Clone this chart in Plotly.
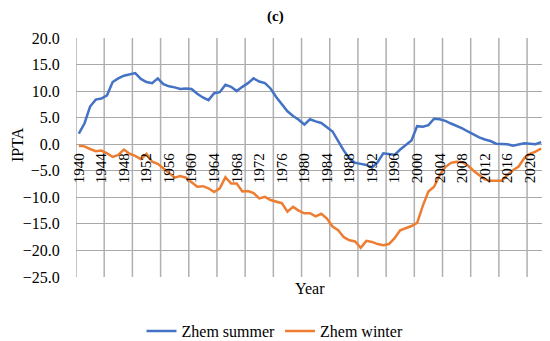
import plotly.graph_objects as go

years = list(range(1940, 2023))

zhem_summer = [
    2.0, 3.9, 7.1, 8.4, 8.6, 9.2, 11.7, 12.4, 12.9, 13.2,
    13.4, 12.3, 11.7, 11.5, 12.4, 11.3, 10.9, 10.7, 10.4, 10.5,
    10.4, 9.5, 8.8, 8.3, 9.6, 9.8, 11.2, 10.8, 10.0, 10.8,
    11.5, 12.4, 11.8, 11.5, 10.5, 8.9, 7.6, 6.2, 5.3, 4.6,
    3.7, 4.7, 4.3, 4.0, 3.2, 2.4, 0.6, -1.2, -2.7, -3.5,
    -3.7, -3.9, -4.4, -3.4, -1.7, -1.9, -2.0, -1.0, -0.2, 0.7,
    3.4, 3.3, 3.6, 4.8, 4.7, 4.4, 3.9, 3.5, 3.0, 2.4,
    1.8, 1.3, 0.9, 0.6, 0.1, 0.0, 0.0, -0.3, -0.1, 0.2,
    0.1, 0.0, 0.4,
]

zhem_winter = [
    -0.3, -0.4, -0.9, -1.3, -1.2, -1.7, -2.4, -2.0, -1.0, -1.8,
    -2.2, -2.8, -1.8, -3.3, -3.7, -4.5, -5.4, -6.3, -6.0, -6.3,
    -7.2, -8.0, -7.9, -8.3, -9.0, -8.3, -6.2, -7.4, -7.4, -8.9,
    -8.8, -9.2, -10.2, -9.9, -10.5, -10.8, -11.1, -12.7, -11.8, -12.5,
    -13.0, -13.0, -13.6, -13.1, -14.0, -15.5, -16.2, -17.5, -18.1, -18.3,
    -19.5, -18.2, -18.4, -18.8, -19.0, -18.8, -17.7, -16.2, -15.8, -15.4,
    -14.8, -11.6, -8.9, -8.0, -5.8, -4.3, -3.5, -3.3, -3.4, -4.0,
    -5.0, -5.8, -6.6, -6.9, -6.9, -6.9, -5.8, -4.9, -4.2, -2.6,
    -1.8, -1.4, -0.8,
]

x_tick_years = list(range(1940, 2021, 4))
x_grid_bounds = [1939.5 + 5 * k for k in range(17)]
y_ticks = [20, 15, 10, 5, 0, -5, -10, -15, -20, -25]

FONT = "Liberation Serif"
GRID = "#a9a9a9"
X_RANGE = [1939.5, 2022.5]
Y_RANGE = [-25, 20]

# page body has an 8px margin; figure sized to fit the 550x341 window
W, H = 542, 333
ML, MR, MT, MB = 68, 6, 30, 64
PW, PH = W - ML - MR, H - MT - MB

# vertical category-boundary gridlines (every 5 years), drawn first so they sit under the data
grid_x, grid_y = [], []
for b in x_grid_bounds:
    grid_x += [b, b, None]
    grid_y += [Y_RANGE[0], Y_RANGE[1], None]

fig = go.Figure()
fig.add_trace(go.Scatter(x=grid_x, y=grid_y, mode="lines", showlegend=False, hoverinfo="skip",
                         line=dict(color="#b0b0b0", width=1.5), connectgaps=False))
fig.add_trace(go.Scatter(x=years, y=zhem_summer, mode="lines", name="Zhem summer",
                         line=dict(color="#4472C4", width=2.5)))
fig.add_trace(go.Scatter(x=years, y=zhem_winter, mode="lines", name="Zhem winter",
                         line=dict(color="#ED7D31", width=2.5)))
# invisible carrier trace for the labelled year axis (top part of the plot, ending at y=0)
fig.add_trace(go.Scatter(x=years, y=zhem_summer, mode="lines", xaxis="x2", yaxis="y2",
                         line=dict(width=0, color="rgba(0,0,0,0)"),
                         showlegend=False, hoverinfo="skip"))

zero_frac = (0 - Y_RANGE[0]) / (Y_RANGE[1] - Y_RANGE[0])

fig.update_layout(
    width=W, height=H,
    margin=dict(l=ML, r=MR, t=MT, b=MB, autoexpand=False),
    paper_bgcolor="white", plot_bgcolor="rgba(0,0,0,0)",
    font=dict(family=FONT, size=16, color="black"),
    showlegend=True,
    legend=dict(orientation="h", x=(267 - ML) / PW, xanchor="center",
                y=-(323 - (MT + PH)) / PH, yanchor="middle",
                font=dict(family=FONT, size=16, color="black"), bgcolor="rgba(0,0,0,0)"),
    xaxis=dict(
        range=X_RANGE, showticklabels=False, showgrid=False,
        zeroline=False, showline=False, ticks="", automargin=False,
    ),
    yaxis=dict(
        range=Y_RANGE, domain=[0, 1], tickmode="array", tickvals=y_ticks,
        tickformat=".1f", showgrid=True, gridcolor=GRID, gridwidth=1,
        zeroline=False, showline=False, ticks="outside", ticklen=12, tickcolor="rgba(0,0,0,0)",
        tickfont=dict(family=FONT, size=16, color="black"), automargin=False,
    ),
    xaxis2=dict(
        range=X_RANGE, anchor="y2",
        tickmode="array", tickvals=x_tick_years, ticktext=[str(v) for v in x_tick_years],
        tickangle=-90, showgrid=False, zeroline=False, showline=False,
        ticks="outside", ticklen=2, tickcolor="rgba(0,0,0,0)",
        tickfont=dict(family=FONT, size=15, color="black"), automargin=False,
    ),
    yaxis2=dict(
        range=[0, Y_RANGE[1]], domain=[zero_frac, 1], anchor="x2",
        showticklabels=False, showgrid=False, zeroline=False, showline=False, ticks="",
        automargin=False,
    ),
    annotations=[
        dict(text="<b>(c)</b>", xref="paper", yref="paper", x=(267 - ML) / PW,
             y=(MT + PH - 8) / PH, showarrow=False, font=dict(family=FONT, size=15),
             xanchor="center", yanchor="middle"),
        dict(text="Year", xref="paper", yref="paper", x=0.5, y=-(280 - (MT + PH)) / PH,
             showarrow=False, font=dict(family=FONT, size=16), xanchor="center", yanchor="middle"),
        dict(text="IPTA", xref="paper", x=(9 - ML) / PW, xanchor="center", yref="paper",
             y=(MT + PH - 137) / PH, yanchor="middle", showarrow=False, textangle=-90,
             font=dict(family=FONT, size=16)),
    ],
)

fig.write_html("out.html")
